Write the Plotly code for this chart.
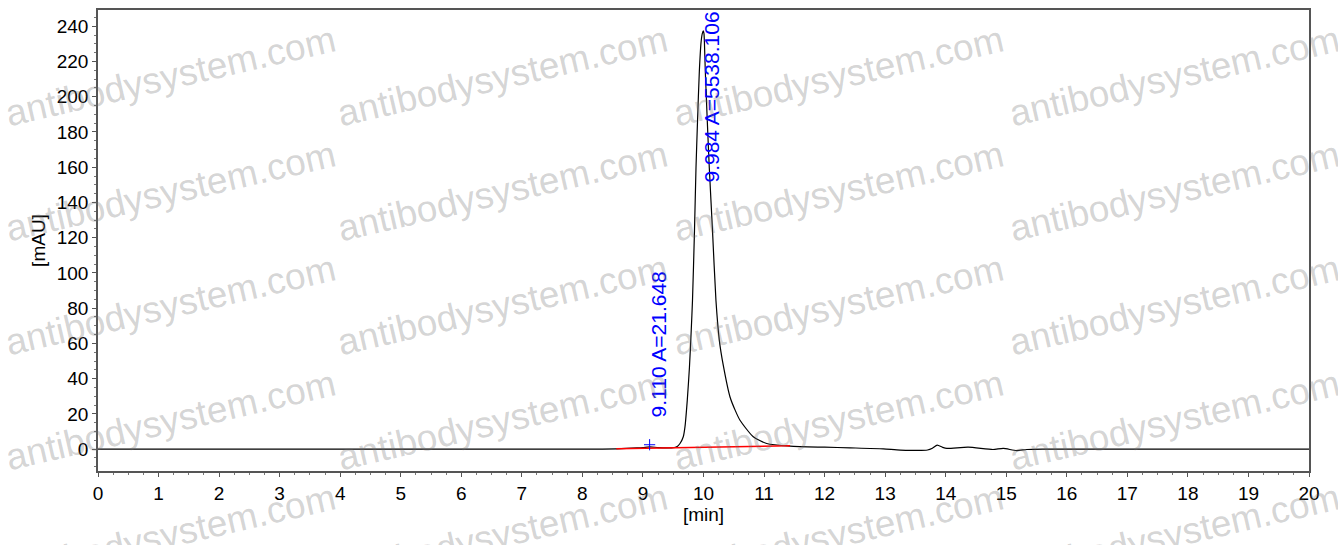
import plotly.graph_objects as go

# ---- data ----
time_min = [0.0, 8.2, 8.56, 8.9, 9.0, 9.11, 9.25, 9.4, 9.5,
            9.557, 9.612, 9.666, 9.694, 9.732, 9.768, 9.797, 9.818, 9.851, 9.876, 9.901, 9.931,
            9.96, 9.98, 9.997, 10.008, 10.015,
            10.030, 10.063, 10.096, 10.149, 10.206, 10.262, 10.327, 10.438, 10.524, 10.603,
            10.822, 11.044, 11.43, 12.0, 12.42, 12.97, 13.25, 13.7, 13.78, 13.86, 13.95,
            14.02, 14.37, 14.78, 14.95, 15.17, 15.34, 15.6, 20.0]
signal_mAU = [0.0, 0.0, 0.2, 0.7, 0.9, 1.3, 0.9, 0.7, 0.8,
              1.3, 3.2, 7.0, 12.6, 27.7, 46.5, 67.2, 84.2, 123.8, 159.5, 185.9, 214.2,
              231.0, 235.8, 237.3, 235.8, 231.0,
              214.2, 185.9, 159.5, 123.8, 84.2, 61.6, 47.5, 29.6, 22.0, 16.4,
              7.0, 3.2, 1.7, 1.1, 0.75, 0.2, -0.5, -0.5, 0.5, 2.3, 1.0,
              0.4, 1.1, -0.2, 0.4, -0.8, -0.2, 0.0, 0.0]

baseline_t = [8.56, 11.43]
baseline_v = [0.2, 1.9]

peak_rt = [9.110, 9.984]
peak_area = [21.648, 5538.106]
peak_marker_v = [2.5]
label_x = [9.25, 10.14]
label_y = [17.5, 151.0]

x_ticks = list(range(0, 21))
y_ticks = list(range(0, 241, 20))

watermark = "antibodysystem.com"

# ---- figure ----
W, H = 1338, 545
L, R, T, B = 98, 29, 8, 74
pw, ph = W - L - R, H - T - B

fig = go.Figure()
fig.add_trace(go.Scatter(x=time_min, y=signal_mAU, mode="lines",
                         line=dict(color="black", width=1.2, shape="spline", smoothing=0.6),
                         hoverinfo="skip", showlegend=False))
fig.add_trace(go.Scatter(x=baseline_t, y=baseline_v, mode="lines",
                         line=dict(color="red", width=1.5), showlegend=False))
fig.add_trace(go.Scatter(x=[peak_rt[0]], y=peak_marker_v, mode="markers",
                         marker=dict(symbol="cross-thin-open", size=8, color="blue",
                                     line=dict(color="blue", width=1)),
                         showlegend=False))

font_main = "Liberation Sans, Arial, sans-serif"
ann = []
for rt, a, lx, ly in zip(peak_rt, peak_area, label_x, label_y):
    ann.append(dict(x=lx, y=ly, xref="x", yref="y", text=f"{rt:.3f} A={a:.3f}",
                    textangle=-90, showarrow=False, xanchor="center", yanchor="bottom",
                    font=dict(family=font_main, size=21, color="blue"), borderpad=0))

# watermark tiling
col_cx = [170, 502, 838, 1174]
row_cy = [75, 190, 305, 420, 535]
for cx in col_cx:
    for cy in row_cy:
        ann.append(dict(x=(cx - L) / pw, y=(H - B - cy) / ph, xref="paper", yref="paper",
                        text=watermark, showarrow=False, textangle=-13,
                        xanchor="center", yanchor="middle",
                        font=dict(family=font_main, size=37, color="rgba(110,110,110,0.3)")))

axis_common = dict(showgrid=False, zeroline=False, showline=True, mirror=True,
                   linecolor="#555", linewidth=1.5, ticks="outside", ticklen=4,
                   tickwidth=1, tickcolor="#555",
                   tickfont=dict(family=font_main, size=19, color="black"))

fig.update_layout(
    width=W, height=H, margin=dict(l=L, r=R, t=T, b=B),
    paper_bgcolor="white", plot_bgcolor="white",
    annotations=ann,
    xaxis=dict(range=[0, 20], tickvals=x_ticks, ticktext=[str(v) for v in x_ticks],
               minor=dict(dtick=0.25, ticks="outside", ticklen=2, tickcolor="#777"),
               title=dict(text="[min]", font=dict(family=font_main, size=19, color="black"),
                          standoff=4),
               **axis_common),
    yaxis=dict(range=[-12.4, 249.2], tickvals=y_ticks, ticktext=[str(v) for v in y_ticks],
               minor=dict(dtick=5, ticks="outside", ticklen=2, tickcolor="#777"),
               title=dict(text="[mAU]", font=dict(family=font_main, size=19, color="black"),
                          standoff=6),
               **axis_common),
)

fig.write_html("out.html", config={"displayModeBar": False},
               post_script="document.body.style.margin='0';")
